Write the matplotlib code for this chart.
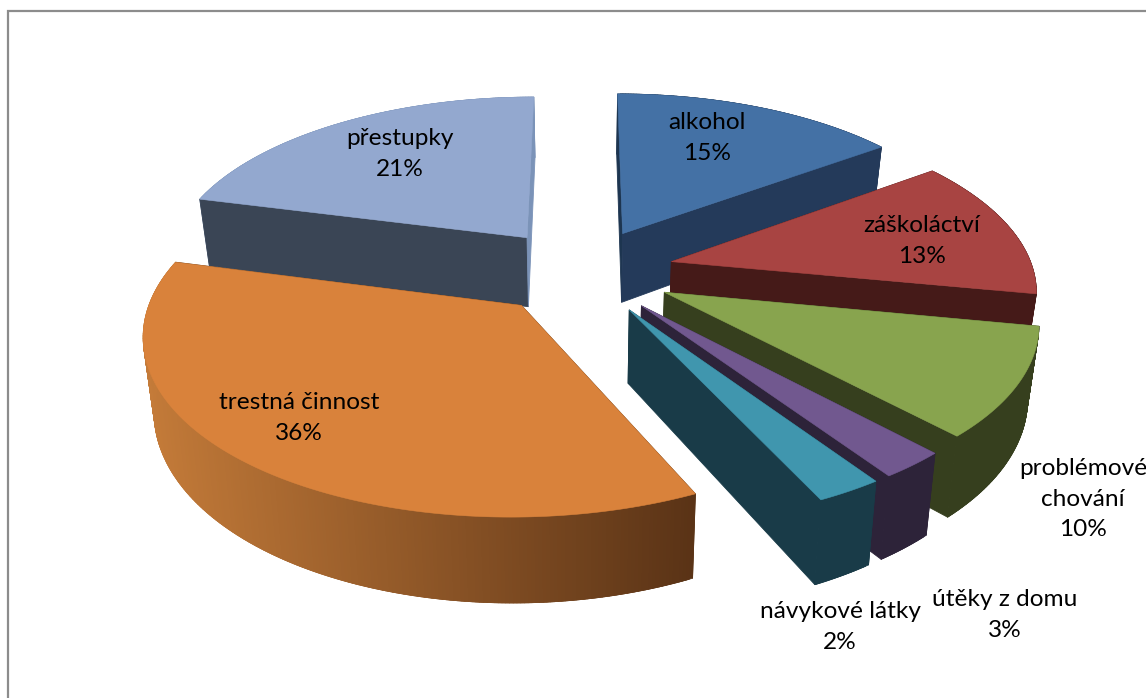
import numpy as np
import matplotlib
matplotlib.use("Agg")
import matplotlib.pyplot as plt
from matplotlib.collections import PolyCollection
from matplotlib.colors import to_rgb
from matplotlib.patches import Polygon

# clockwise from 12 o'clock, like the source chart
LABELS = ["alkohol", "záškoláctví", "problémové\nchování", "útěky z domu",
          "návykové látky", "trestná činnost", "přestupky"]
SHARES = [15, 13, 10, 2.5, 2.5, 36, 21]  # slice sizes
PERCENT = ["15%", "13%", "10%", "3%", "2%", "36%", "21%"]  # as printed

TOP = ["#4471a5", "#a84442", "#88a44e", "#71588f", "#4096ae", "#d9823b", "#93a8cf"]
RADIAL_START = ["#1d3550", "#451a18", "#363f1e", "#2d2339", "#193b48", "#5a3415", "#3a4555"]
RADIAL_END = ["#243a5a", "#451a18", "#363f1e", "#2d2339", "#193b48", "#5a3415", "#7b93b8"]
# outer wall colour at the right-most and left-most end of each slice
ARC_RIGHT = ["#243a5a", "#451a18", "#363f1e", "#2d2339", "#193b48", "#5a3316", "#7b93b8"]
ARC_LEFT = ["#1d3550", "#451a18", "#363f1e", "#2d2339", "#193b48", "#c47b39", "#7b93b8"]

# label centres in image pixels
LABEL_POS = [(707, 138), (922, 241), (1083, 499), (1005, 615), (840, 627), (299, 418), (400, 154)]
DRAW_ORDER = [6, 0, 1, 2, 5, 3, 4]

# projection of the pie plane to image pixels
CX, CY, R, K, PERSP, DEPTH, EXPLODE, TAPER = 582, 271, 362, 170, 0.145, 71, 0.255, 0.025


def project(x, y, z=0.0):
    w = 1 + PERSP * y
    return CX + R * x / w * (1 - TAPER * z), CY - K * y / w + DEPTH * z / w


def rim(start, end, shift):
    t = np.radians(np.linspace(start, end, max(int(end - start) * 2, 2) + 1))
    return t, shift[0] + np.sin(t), shift[1] + np.cos(t)


fig = plt.figure(figsize=(11.46, 6.98), dpi=100, facecolor="white")
ax = fig.add_axes([0, 0, 1, 1])
ax.set_xlim(0, 1146)
ax.set_ylim(698, 0)
ax.axis("off")

# frame of the chart area, runs off the crop on two sides
ax.plot([7.5, 7.5, 1146], [698, 10.5, 10.5], color="#8c8c8c", lw=1.6, solid_joinstyle="miter")

edges = np.concatenate([[0], np.cumsum(SHARES)]) * 360.0 / sum(SHARES)

for i in DRAW_ORDER:
    a0, a1 = edges[i], edges[i + 1]
    mid = np.radians((a0 + a1) / 2)
    shift = (EXPLODE * np.sin(mid), EXPLODE * np.cos(mid))
    t, rx, ry = rim(a0, a1, shift)

    # outer wall, shaded left to right; each quad overlaps the next to hide seams
    sx, sy = project(rx, ry)
    bx, by = project(rx, ry, 1)
    n = len(sx)
    quads = [[(sx[j], sy[j]), (sx[min(j + 2, n - 1)], sy[min(j + 2, n - 1)]),
              (bx[min(j + 2, n - 1)], by[min(j + 2, n - 1)]), (bx[j], by[j])]
             for j in range(n - 1)]
    c0, c1 = np.array(to_rgb(ARC_RIGHT[i])), np.array(to_rgb(ARC_LEFT[i]))
    frac = (sx.max() - sx[:-1]) / (sx.max() - sx.min())
    cols = np.array([c0 + (c1 - c0) * f for f in frac])

    # rear part of the wall goes under the radial walls, front part over them
    rear = np.cos(t[:-1]) > 0
    rear_quads = [q for q, r in zip(quads, rear) if r]
    front_quads = [q for q, r in zip(quads, rear) if not r]
    if rear_quads:
        ax.add_collection(PolyCollection(rear_quads, facecolors=cols[rear],
                                         edgecolors=cols[rear], linewidths=0.5))

    for end_x, end_y, col in [(rx[0], ry[0], RADIAL_START[i]), (rx[-1], ry[-1], RADIAL_END[i])]:
        top_a, bot_a = project(shift[0], shift[1]), project(shift[0], shift[1], 1)
        top_b, bot_b = project(end_x, end_y), project(end_x, end_y, 1)
        ax.add_patch(Polygon([top_a, top_b, bot_b, bot_a], fc=col, ec=col, lw=0.6))

    if front_quads:
        ax.add_collection(PolyCollection(front_quads, facecolors=cols[~rear],
                                         edgecolors=cols[~rear], linewidths=0.5))

    # top face
    ax_pt, ay_pt = project(shift[0], shift[1])
    pts = [(ax_pt, ay_pt)] + list(zip(sx, sy))
    ax.add_patch(Polygon(pts, fc=TOP[i], ec=TOP[i], lw=0.4))

for name, pct, (x, y) in zip(LABELS, PERCENT, LABEL_POS):
    ax.text(x, y, f"{name}\n{pct}", ha="center", va="center", family="Lato",
            fontsize=17.6, color="black", linespacing=1.58, clip_on=True)

fig.savefig("out.png", dpi=100)
